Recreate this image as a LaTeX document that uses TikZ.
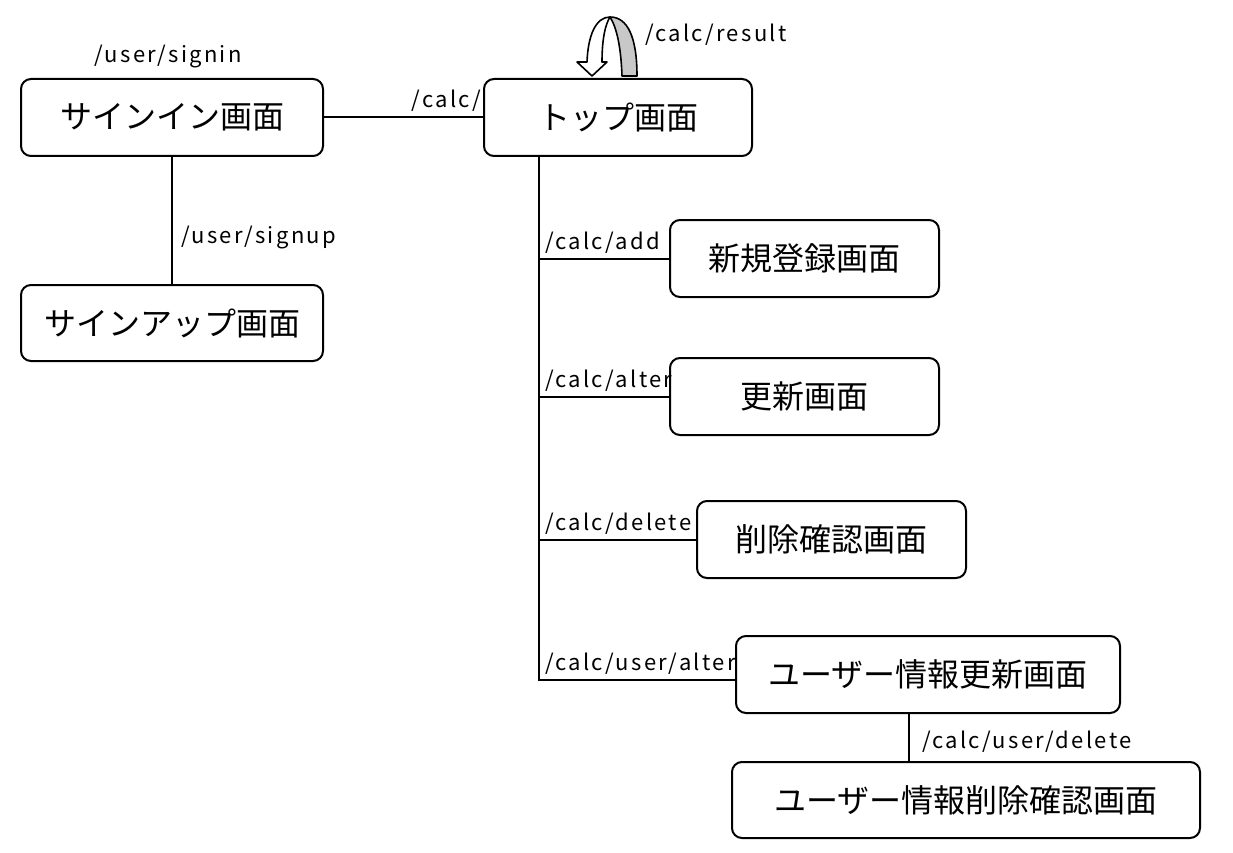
\documentclass[tikz,border=0pt]{standalone}
\usepackage{fontspec}
\setmainfont{Noto Sans CJK JP}
\newfontfamily\lblfont[LetterSpace=10.5]{Noto Sans CJK JP}
\definecolor{arrowgray}{RGB}{200,200,200}
\begin{document}
\begin{tikzpicture}[x=1pt,y=-1pt,
  screen/.style={draw=black,line width=2pt,rounded corners=10pt,fill=white,
    minimum height=77pt,inner sep=0pt,font=\fontsize{32}{38}\selectfont},
  lbl/.style={inner sep=0pt,font=\lblfont\fontsize{22}{26}\selectfont},
  conn/.style={draw=black,line width=2pt}]
\useasboundingbox (0,0) rectangle (1233,853);

\node[screen,minimum width=302pt] (signin) at (172,117.5) {サインイン画面};
\node[screen,minimum width=268pt] (top) at (618,117.5) {トップ画面};
\node[screen,minimum width=302pt,minimum height=76pt] (signup) at (172,323) {サインアップ画面};
\node[screen,minimum width=269pt] (add) at (804.5,258.5) {新規登録画面};
\node[screen,minimum width=269pt] (alter) at (804.5,396.5) {更新画面};
\node[screen,minimum width=269pt] (del) at (831.5,539.5) {削除確認画面};
\node[screen,minimum width=384pt] (ualter) at (928,674.5) {ユーザー情報更新画面};
\node[screen,minimum width=468pt,minimum height=76pt] (udel) at (966,800) {ユーザー情報削除確認画面};

\coordinate (trunk) at (539,0);
\coordinate (ux) at (909,0);

\draw[conn] (signin.east) -- (top.west);
\draw[conn] (signin.south) -- (signup.north);
\draw[conn] (top.south -| trunk) |- ([yshift=-5.5pt]ualter.west);
\draw[conn] (add.west -| trunk) -- (add.west);
\draw[conn] (alter.west -| trunk) -- (alter.west);
\draw[conn] (del.west -| trunk) -- (del.west);
\draw[conn] (ualter.south -| ux) -- (udel.north -| ux);

\node[lbl,anchor=base] (l1) at (168,63) {/user/signin};
\node[lbl,anchor=base east] (l2) at (481,108) {/calc/};
\node[lbl,anchor=base west] (l3) at (181,243) {/user/signup};
\node[lbl,anchor=base west] (l4) at (645,42) {/calc/result};
\node[lbl,anchor=base west] (l5) at (545,249) {/calc/add};
\node[lbl,anchor=base west] (l6) at (545,387) {/calc/alter};
\node[lbl,anchor=base west] (l7) at (545,530) {/calc/delete};
\node[lbl,anchor=base west] (l8) at (545,670) {/calc/user/alter};
\node[lbl,anchor=base west] (l9) at (922,748) {/calc/user/delete};

% U-turn arrow
\draw[line width=1.6pt,fill=arrowgray,line join=round]
  (622,76) -- (637,76) .. controls (637,38) and (628,17) .. (610,17)
  .. controls (617,28) and (621,48) .. cycle;
\draw[line width=1.6pt,fill=white,line join=round]
  (577,62) -- (587,62) .. controls (588,35) and (596,17) .. (610,17)
  .. controls (605,25) and (602,40) .. (602,62) -- (607,62) -- (592,76) -- cycle;
\end{tikzpicture}
\end{document}
